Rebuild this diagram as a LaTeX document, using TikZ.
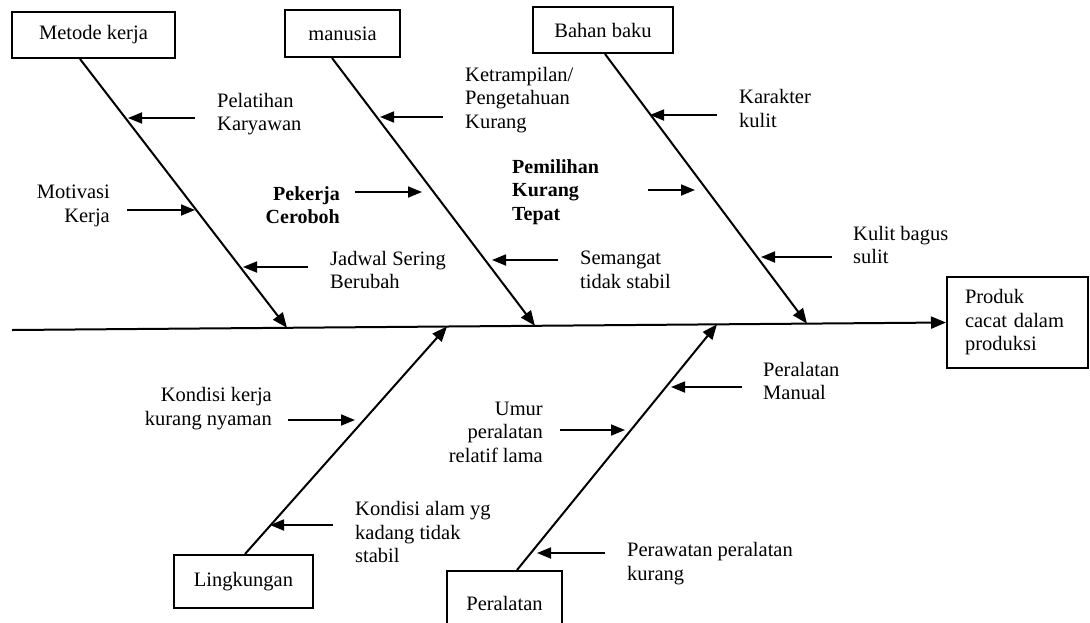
\documentclass[tikz,border=0pt]{standalone}
\usepackage{fontspec}
\setmainfont{Liberation Serif}
\usetikzlibrary{arrows.meta,calc}

\begin{document}
\begin{tikzpicture}[x=1pt,y=-1pt,
  every node/.style={font=\fontsize{20.5}{23.5}\selectfont, inner sep=0pt},
  catbox/.style={draw, line width=2pt},
  bone/.style={line width=2pt, -{Triangle[length=15pt,width=12pt]}},
  cause/.style={line width=1.8pt, -{Triangle[length=14pt,width=11pt]}},
  lbl/.style={align=left, anchor=west},
  lblr/.style={align=right, anchor=east},
  strong/.style={font=\fontsize{20}{23.5}\selectfont\bfseries}]

\useasboundingbox (0,0) rectangle (1090,622);
\clip (0,0) rectangle (1090,622);

% category boxes
\node[catbox, minimum width=163pt, minimum height=46pt] (mk) at (93.5,35)   {Metode kerja};
\node[catbox, minimum width=115pt, minimum height=47pt] (mn) at (342.5,33.5) {manusia};
\node[catbox, minimum width=140pt, minimum height=46pt] (bb) at (603,30)     {Bahan baku};
\node[catbox, minimum width=139pt, minimum height=53pt] (lk) at (243.5,581.5) {Lingkungan};
\node[catbox, minimum width=115pt, minimum height=64pt] (pr) at (504.5,603)  {Peralatan};

% effect box
\node[catbox, minimum width=141pt, minimum height=91pt, text width=105pt, align=left]
  (out) at (1017.5,322.5) {Produk\\cacat dalam\\produksi};

% spine
\draw[bone] (12,330) coordinate (tail) -- (out.west);

% main bones
\draw[bone] ($(mk.south)+(-13.5,0)$) -- (287,327.8) coordinate (jMK);
\draw[bone] ($(mn.south)+(-10.5,0)$) -- (535,325.8) coordinate (jMN);
\draw[bone] ($(bb.south)+(2,0)$)     -- (807,323.6) coordinate (jBB);
\draw[bone] ($(lk.north)+(1.5,0)$)   -- (447,326.5) coordinate (jLK);
\draw[bone] ($(pr.north)+(12.5,0)$)  -- (717,324.3) coordinate (jPR);

% Metode kerja
\node[lbl]  (pel) at (217,114) {Pelatihan\\Karyawan};
\node[lblr] (mot) at (110,206) {Motivasi\\Kerja};
\node[lbl]  (jad) at (330,270) {Jadwal Sering\\Berubah};
\draw[cause] (195,118) coordinate (pelT) -- (128,118) coordinate (pelH);
\draw[cause] (127,210) coordinate (motT) -- (195,210) coordinate (motH);
\draw[cause] (308,267) coordinate (jadT) -- (243,267) coordinate (jadH);

% manusia
\node[lbl]  (ket) at (465,100) {Ketrampilan/\\Pengetahuan\\Kurang};
\node[lblr, strong] (pek) at (340,205) {Pekerja\\Ceroboh};
\node[lbl]  (sem) at (580,270) {Semangat\\tidak stabil};
\draw[cause] (443,117) coordinate (ketT) -- (380,117) coordinate (ketH);
\draw[cause] (355,192) coordinate (pekT) -- (422,192) coordinate (pekH);
\draw[cause] (558,260) coordinate (semT) -- (492,260) coordinate (semH);

% Bahan baku
\node[lbl]  (kar) at (739,108.5) {Karakter\\kulit};
\node[lbl, strong] (pem) at (512,192) {Pemilihan\\Kurang\\Tepat};
\node[lbl]  (kul) at (853,245) {Kulit bagus\\sulit};
\draw[cause] (717,115) coordinate (karT) -- (650,115) coordinate (karH);
\draw[cause] (648,190) coordinate (pemT) -- (695,190) coordinate (pemH);
\draw[cause] (832,257) coordinate (kulT) -- (761,257) coordinate (kulH);

% Lingkungan
\node[lblr] (kon) at (272,408.5) {Kondisi kerja\\kurang nyaman};
\node[lbl]  (ala) at (355,532) {Kondisi alam yg\\kadang tidak\\stabil};
\draw[cause] (288,420) coordinate (konT) -- (355,420) coordinate (konH);
\draw[cause] (333,525) coordinate (alaT) -- (270,525) coordinate (alaH);

% Peralatan
\node[lblr] (umu) at (543,432) {Umur\\peralatan\\relatif lama};
\node[lbl]  (man) at (763,381) {Peralatan\\Manual};
\node[lbl]  (raw) at (627,563.5) {Perawatan peralatan\\kurang};
\draw[cause] (560,430) coordinate (umuT) -- (625,430) coordinate (umuH);
\draw[cause] (742,387) coordinate (manT) -- (671,387) coordinate (manH);
\draw[cause] (605,553) coordinate (rawT) -- (537,553) coordinate (rawH);

\end{tikzpicture}
\end{document}
